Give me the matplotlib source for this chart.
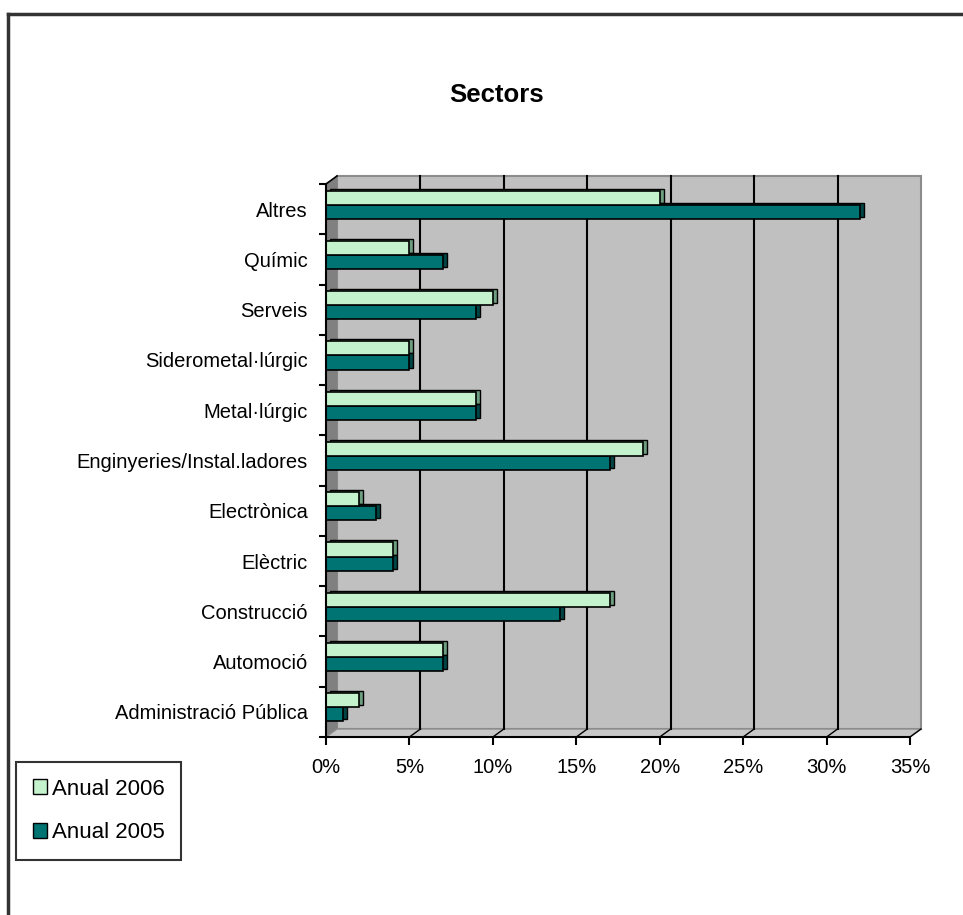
import matplotlib
matplotlib.use('Agg')
import matplotlib.pyplot as plt
from matplotlib.patches import Rectangle, Polygon, Patch
from matplotlib.lines import Line2D
import numpy as np

plt.rcParams['font.family'] = ['Liberation Sans', 'DejaVu Sans']

# ===== Data (bottom to top, as drawn) =====
categories = ['Administració Pública', 'Automoció', 'Construcció', 'Elèctric',
              'Electrònica', 'Enginyeries/Instal.ladores', 'Metal·lúrgic',
              'Siderometal·lúrgic', 'Serveis', 'Químic', 'Altres']
anual_2006 = [2, 7, 17, 4, 2, 19, 9, 5, 10, 5, 20]
anual_2005 = [1, 7, 14, 4, 3, 17, 9, 5, 9, 7, 32]
xticks = [0, 5, 10, 15, 20, 25, 30, 35]

C_2006 = '#C4F2CC'
C_2006_CAP = '#6E9E80'
C_2005 = '#007373'
C_2005_CAP = '#004545'

W, H = 963, 915
fig = plt.figure(figsize=(W / 100, H / 100), dpi=100)
ax = fig.add_axes([326 / W, 1 - 737 / H, 584 / W, 553 / H])
ax.set_xlim(0, 35)
ax.set_ylim(-0.5, 10.5)
ax.patch.set_visible(False)

# pixel -> data unit sizes, for the fake 3D depth
px_x = 35 / 584
px_y = 11 / 553
DX, DY = 11 * px_x, 8 * px_y
CX, CY = 4 * px_x, 2 * px_y

# back wall, side wall and floor
ax.add_patch(Rectangle((DX, -0.5 + DY), 35, 11, fc='#C0C0C0', ec='#8C8C8C',
                       lw=1.5, zorder=0, clip_on=False))
ax.add_patch(Polygon([(0, -0.5), (DX, -0.5 + DY), (DX, 10.5 + DY), (0, 10.5)],
                     closed=True, fc='#808080', ec='#808080', lw=0.5,
                     zorder=0.5, clip_on=False))
ax.add_patch(Polygon([(0, -0.5), (35, -0.5), (35 + DX, -0.5 + DY), (DX, -0.5 + DY)],
                     closed=True, fc='#C8C8C8', ec='#8C8C8C', lw=1,
                     zorder=0.5, clip_on=False))
for v in xticks[1:-1]:
    ax.plot([v + DX, v + DX], [-0.5 + DY, 10.5 + DY], color='black', lw=1.5,
            zorder=1, clip_on=False)
for v in xticks[1:]:
    ax.plot([v, v + DX], [-0.5, -0.5 + DY], color='black', lw=1, zorder=1,
            clip_on=False)
ax.plot([0, DX], [10.5, 10.5 + DY], color='black', lw=1.2, zorder=1, clip_on=False)

# bars: darker copy shifted back-right gives the end cap, then the front face
y = np.arange(len(categories))
h = 0.28
y06 = y + 0.23
y05 = y - 0.05
ax.barh(y06 + CY, anual_2006, height=h, left=CX, color=C_2006_CAP,
        edgecolor='black', lw=1, zorder=2)
ax.barh(y05 + CY, anual_2005, height=h, left=CX, color=C_2005_CAP,
        edgecolor='black', lw=1, zorder=2.1)
ax.barh(y05, anual_2005, height=h, color=C_2005, edgecolor='black', lw=1.2, zorder=3)
ax.barh(y06, anual_2006, height=h, color=C_2006, edgecolor='black', lw=1.2, zorder=3.1)

# axes
for s in ['top', 'right']:
    ax.spines[s].set_visible(False)
for s in ['left', 'bottom']:
    ax.spines[s].set_linewidth(1.5)
    ax.spines[s].set_zorder(4)

ax.set_yticks(y)
ax.set_yticklabels(categories, fontsize=14.5)
ax.set_yticks(np.arange(-0.5, 11, 1), minor=True)
ax.tick_params(axis='y', which='major', length=0, pad=13)
ax.tick_params(axis='y', which='minor', length=5, width=1.5, direction='out')

ax.set_xticks(xticks)
ax.set_xticklabels([f'{v}%' for v in xticks], fontsize=14.5)
ax.tick_params(axis='x', length=6, width=1.5, direction='out', pad=9)

fig.text(497 / W, 1 - 95 / H, 'Sectors', ha='center', va='center',
         fontsize=18.5, fontweight='bold')

handles = [Patch(facecolor=C_2006, edgecolor='black'),
           Patch(facecolor=C_2005, edgecolor='black')]
leg = fig.legend(handles, ['Anual 2006', 'Anual 2005'], loc='upper left',
                 bbox_to_anchor=(16 / W, 1 - 762 / H), fontsize=16,
                 frameon=True, fancybox=False, edgecolor='black',
                 handlelength=0.65, handleheight=0.65, handletextpad=0.2,
                 labelspacing=1.0, borderpad=0.75, borderaxespad=0)
leg.get_frame().set_linewidth(1.5)

# outer chart frame (top and left edges visible)
fig.add_artist(Line2D([8 / W, 8 / W], [0, 1 - 14 / H], color='#333333', lw=2.5,
                      transform=fig.transFigure))
fig.add_artist(Line2D([8 / W, 1], [1 - 14 / H, 1 - 14 / H], color='#333333', lw=2.5,
                      transform=fig.transFigure))

plt.savefig('out.png', dpi=100)
